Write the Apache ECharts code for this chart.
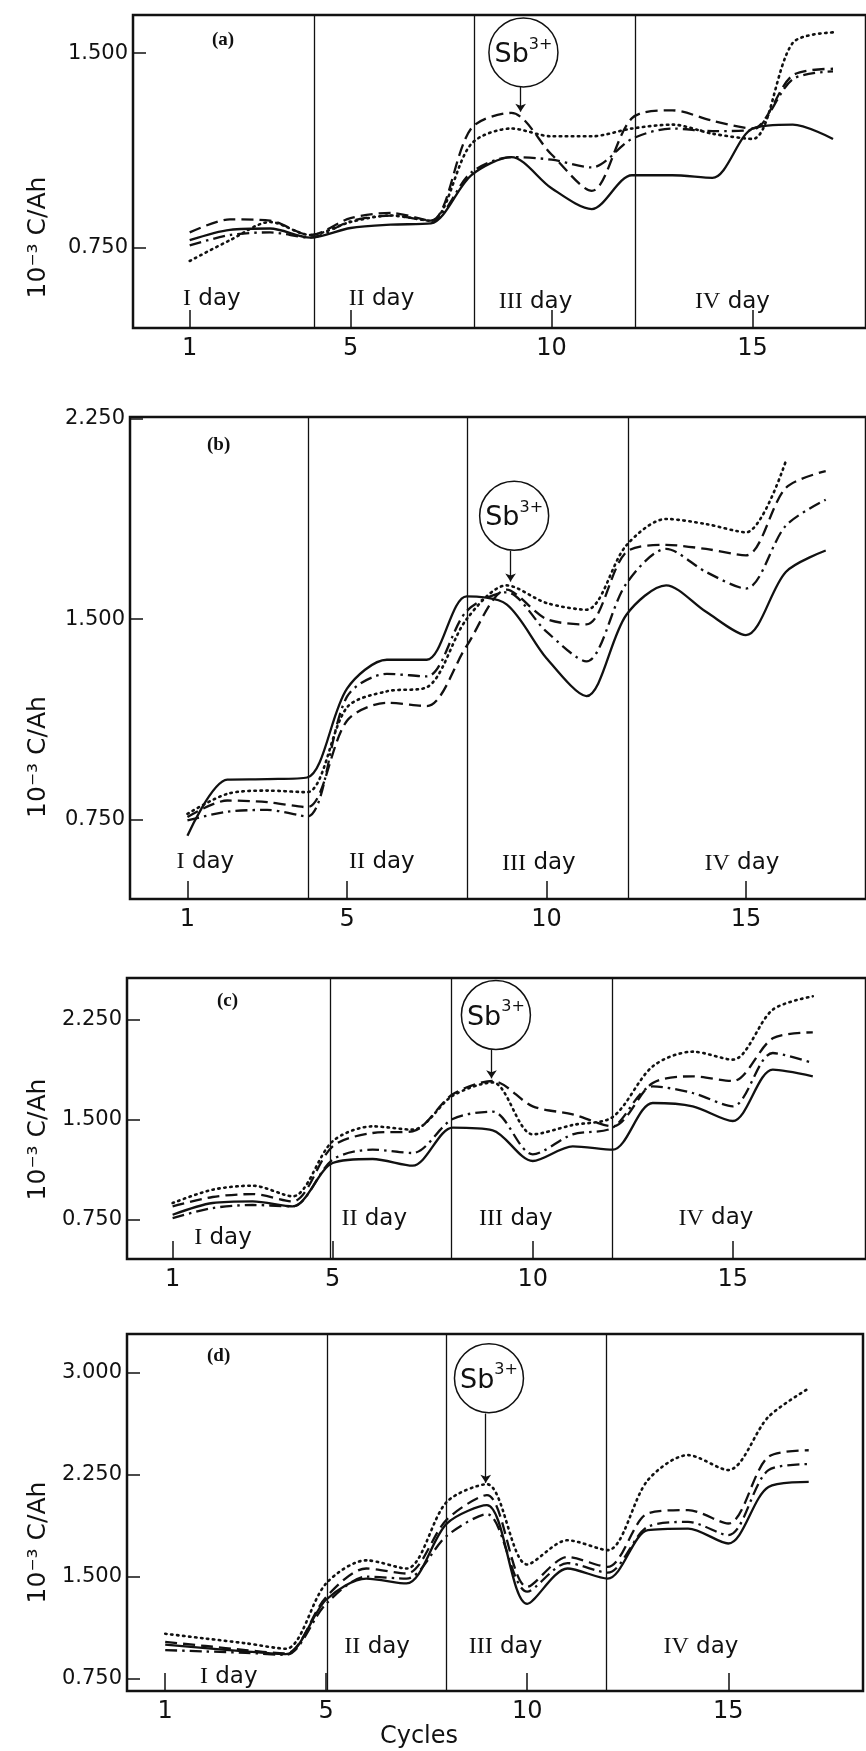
<!DOCTYPE html>
<html>
<head>
<meta charset="utf-8">
<script src="https://cdn.jsdelivr.net/npm/echarts@6/dist/echarts.min.js"></script>
<style>
  html, body { margin: 0; padding: 0; background: #fff; }
  #chart { width: 866px; height: 1751px; }
</style>
</head>
<body>
<div id="chart"></div>
<script>
// cycle numbers on the x axis
const cycles = [1, 2, 3, 4, 5, 6, 7, 8, 9, 10, 11, 12, 13, 14, 15, 16, 17]
const xTicks = [1, 5, 10, 15]
const dayNames = ['I', 'II', 'III', 'IV']
const panelNames = ['(a)', '(b)', '(c)', '(d)']
const yName = '10⁻³ C/Ah'

// panel (a)
const aSolid = [0.78, 0.82, 0.825, 0.79, 0.827, 0.84, 0.845, 1.03, 1.10, 0.98, 0.90, 1.03, 1.03, 1.02, 1.21, 1.225, 1.17]
const aDashed = [0.81, 0.86, 0.855, 0.80, 0.865, 0.885, 0.855, 1.21, 1.27, 1.11, 0.97, 1.25, 1.28, 1.24, 1.21, 1.415, 1.44]
const aDashDot = [0.76, 0.80, 0.81, 0.79, 0.853, 0.875, 0.855, 1.04, 1.10, 1.09, 1.06, 1.17, 1.21, 1.20, 1.205, 1.40, 1.43]
const aDotted = [0.70, 0.78, 0.85, 0.80, 0.85, 0.875, 0.855, 1.15, 1.21, 1.18, 1.18, 1.21, 1.225, 1.19, 1.17, 1.54, 1.58]
const aYTicks = [0.75, 1.5]
const aDayLines = [4.1, 8.07, 12.07]

// panel (b)
const bSolid = [0.69, 0.90, 0.902, 0.908, 1.24, 1.348, 1.348, 1.585, 1.555, 1.354, 1.212, 1.515, 1.626, 1.527, 1.44, 1.676, 1.756]
const bDashed = [0.76, 0.822, 0.816, 0.797, 1.12, 1.187, 1.175, 1.40, 1.61, 1.50, 1.48, 1.75, 1.777, 1.762, 1.738, 1.99, 2.053]
const bDashDot = [0.748, 0.78, 0.787, 0.762, 1.21, 1.295, 1.286, 1.53, 1.60, 1.453, 1.342, 1.632, 1.762, 1.676, 1.614, 1.849, 1.946]
const bDotted = [0.772, 0.847, 0.859, 0.853, 1.17, 1.23, 1.245, 1.50, 1.626, 1.56, 1.535, 1.775, 1.874, 1.855, 1.824, 2.09, null]
const bYTicks = [0.75, 1.5, 2.25]
const bDayLines = [4.02, 8.02, 12.06]

// panel (c)
const cSolid = [0.787, 0.875, 0.887, 0.85, 1.175, 1.205, 1.155, 1.44, 1.42, 1.19, 1.30, 1.275, 1.625, 1.60, 1.49, 1.875, 1.825]
const cDashed = [0.85, 0.92, 0.942, 0.887, 1.30, 1.40, 1.413, 1.69, 1.79, 1.60, 1.54, 1.45, 1.775, 1.825, 1.79, 2.11, 2.155]
const cDashDot = [0.762, 0.837, 0.86, 0.85, 1.20, 1.275, 1.25, 1.505, 1.56, 1.24, 1.39, 1.44, 1.75, 1.70, 1.60, 2.0, 1.925]
const cDotted = [0.875, 0.975, 1.005, 0.925, 1.338, 1.45, 1.425, 1.68, 1.78, 1.39, 1.46, 1.52, 1.90, 2.01, 1.95, 2.325, 2.425]
const cYTicks = [0.75, 1.5, 2.25]
const cDayLines = [4.93, 7.97, 11.98]

// panel (d)
const dSolid = [1.0, 0.975, 0.95, 0.93, 1.33, 1.486, 1.45, 1.89, 2.026, 1.30, 1.56, 1.486, 1.842, 1.854, 1.744, 2.16, 2.198]
const dDashed = [1.02, 0.99, 0.96, 0.935, 1.35, 1.56, 1.523, 1.92, 2.10, 1.425, 1.645, 1.572, 1.965, 1.99, 1.891, 2.382, 2.43]
const dDashDot = [0.96, 0.95, 0.94, 0.925, 1.30, 1.50, 1.486, 1.80, 1.96, 1.39, 1.60, 1.53, 1.867, 1.903, 1.805, 2.284, 2.328]
const dDotted = [1.08, 1.045, 1.01, 0.97, 1.45, 1.62, 1.56, 2.05, 2.18, 1.59, 1.768, 1.695, 2.21, 2.394, 2.284, 2.676, 2.885]
const dYTicks = [0.75, 1.5, 2.25, 3.0]
const dDayLines = [5.02, 8.0, 11.96]

const ink = '#111'
const font = "'DejaVu Sans', sans-serif"
const serif = "'Liberation Serif', 'DejaVu Serif', serif"

// line styles: solid, long dash, dash-dot, dotted
const dashTypes = ['solid', [12, 6], [12, 5, 2.5, 5], [1.5, 4.5]]

// layout of the four panels (pixels / axis ranges / annotation places)
const layout = [
  {
    left: 133, right: -2, top: 15, height: 313, x: [-0.41, 17.82], y: [0.442, 1.647],
    nameShift: 66, letter: [212, 31],
    dayPos: [[1.55, 0.555], [5.77, 0.555], [9.6, 0.542], [14.5, 0.542]],
    sb: [9.3, 1.503], stem: [9.23, 1.37, 1.275],
    series: [aSolid, aDashed, aDashDot, aDotted], yTicks: aYTicks, dayLines: aDayLines
  },
  {
    left: 130, right: -2, top: 417, height: 482, x: [-0.44, 18.01], y: [0.454, 2.255],
    nameShift: 99, letter: [207, 436],
    dayPos: [[1.45, 0.593], [5.875, 0.593], [9.81, 0.587], [14.9, 0.587]],
    sb: [9.19, 1.886], stem: [9.1, 1.755, 1.64],
    series: [bSolid, bDashed, bDashDot, bDotted], yTicks: bYTicks, dayLines: bDayLines
  },
  {
    left: 127, right: -2, top: 978, height: 281, x: [-0.14, 18.33], y: [0.455, 2.5625],
    nameShift: 21, letter: [217, 992],
    dayPos: [[2.26, 0.6125], [6.04, 0.7575], [9.58, 0.7575], [14.58, 0.76]],
    sb: [9.08, 2.285], stem: [8.97, 2.025, 1.81],
    series: [cSolid, cDashed, cDashDot, cDotted], yTicks: cYTicks, dayLines: cDayLines
  },
  {
    left: 127, right: 3, top: 1334, height: 357, x: [0.05, 18.35], y: [0.659, 3.285],
    nameShift: 30, letter: [207, 1347],
    dayPos: [[2.58, 0.763], [6.27, 0.983], [9.46, 0.983], [14.32, 0.983]],
    sb: [9.05, 2.96], stem: [8.97, 2.70, 2.19],
    series: [dSolid, dDashed, dDashDot, dDotted], yTicks: dYTicks, dayLines: dDayLines
  }
]

const markRich = {
  r: { fontFamily: serif, fontSize: 24, color: ink },
  d: { fontFamily: font, fontSize: 23, color: ink },
  s: { fontFamily: font, fontSize: 27, color: ink, lineHeight: 32, verticalAlign: 'bottom' },
  p: { fontFamily: font, fontSize: 16, color: ink, lineHeight: 18, verticalAlign: 'top' }
}

function panelSeries(l, i) {
  return l.series.map((vals, k) => {
    const s = {
      type: 'line',
      xAxisIndex: i,
      yAxisIndex: i,
      data: cycles.map((c, j) => [c, vals[j]]),
      showSymbol: false,
      symbol: 'none',
      smooth: 0.3,
      silent: true,
      lineStyle: { color: ink, width: k === 3 ? 2.6 : 2.3, type: dashTypes[k], cap: k === 3 ? 'round' : 'butt' }
    }
    if (k === 0) {
      // day boundaries, Sb3+ arrow and labels hang on the solid curve
      s.markLine = {
        silent: true,
        animation: false,
        symbol: 'none',
        label: { show: false },
        lineStyle: { color: ink, width: 1.3, type: 'solid' },
        data: l.dayLines.map(x => ({ xAxis: x })).concat([[
          { coord: [l.stem[0], l.stem[1]], symbol: 'none' },
          { coord: [l.stem[0], l.stem[2]], symbol: 'arrow', symbolSize: 8 }
        ]])
      }
      s.markPoint = {
        silent: true,
        animation: false,
        data: dayNames.map((d, n) => ({
          name: d,
          coord: l.dayPos[n],
          symbol: 'rect',
          symbolSize: 1,
          itemStyle: { color: 'rgba(0,0,0,0)' },
          label: {
            show: true, position: 'inside', color: ink, fontFamily: font, fontSize: 23,
            formatter: p => `{r|${p.name}} {d|day}`, rich: markRich
          }
        })).concat([{
          name: 'Sb',
          coord: l.sb,
          symbol: 'circle',
          symbolSize: 69,
          itemStyle: { color: '#fff', borderColor: ink, borderWidth: 1.5 },
          label: {
            show: true, position: 'inside', color: ink,
            formatter: '{s|Sb}{p|3+}', rich: markRich
          }
        }])
      }
    }
    return s
  })
}

const chart = echarts.init(document.getElementById('chart'))

const option = {
  animation: false,
  backgroundColor: '#fff',
  title: layout.map((l, i) => ({
    text: panelNames[i],
    left: l.letter[0],
    top: l.letter[1],
    padding: 0,
    textStyle: { fontFamily: serif, fontWeight: 'bold', fontSize: 19, color: ink }
  })),
  grid: layout.map(l => ({
    left: l.left, right: l.right, top: l.top, height: l.height,
    show: true, borderColor: ink, borderWidth: 2.5, backgroundColor: 'transparent'
  })),
  xAxis: layout.map((l, i) => ({
    type: 'value',
    gridIndex: i,
    min: l.x[0],
    max: l.x[1],
    splitLine: { show: false },
    axisLine: { show: false, onZero: false },
    axisTick: { show: true, inside: true, length: 18, customValues: xTicks, lineStyle: { color: ink, width: 1.5 } },
    axisLabel: { customValues: xTicks, color: ink, fontSize: 24, fontFamily: font, margin: 9 },
    name: i === 3 ? 'Cycles' : '',
    nameLocation: 'middle',
    nameGap: 32,
    nameTextStyle: { color: ink, fontSize: 24, fontFamily: font, padding: [0, 152, 0, 0] }
  })),
  yAxis: layout.map((l, i) => ({
    type: 'value',
    gridIndex: i,
    min: l.y[0],
    max: l.y[1],
    splitLine: { show: false },
    axisLine: { show: false, onZero: false },
    axisTick: { show: true, inside: true, length: 13, customValues: l.yTicks, lineStyle: { color: ink, width: 1.5 } },
    axisLabel: {
      customValues: l.yTicks, color: ink, fontSize: 21, fontFamily: font, margin: 5,
      formatter: v => v.toFixed(3)
    },
    name: yName,
    nameLocation: 'middle',
    nameRotate: 90,
    nameGap: l.left - 51,
    nameTextStyle: { color: ink, fontSize: 25, fontFamily: font, padding: [0, l.nameShift * 2, 0, 0] }
  })),
  series: layout.flatMap((l, i) => panelSeries(l, i))
}

chart.setOption(option)
</script>
</body>
</html>
